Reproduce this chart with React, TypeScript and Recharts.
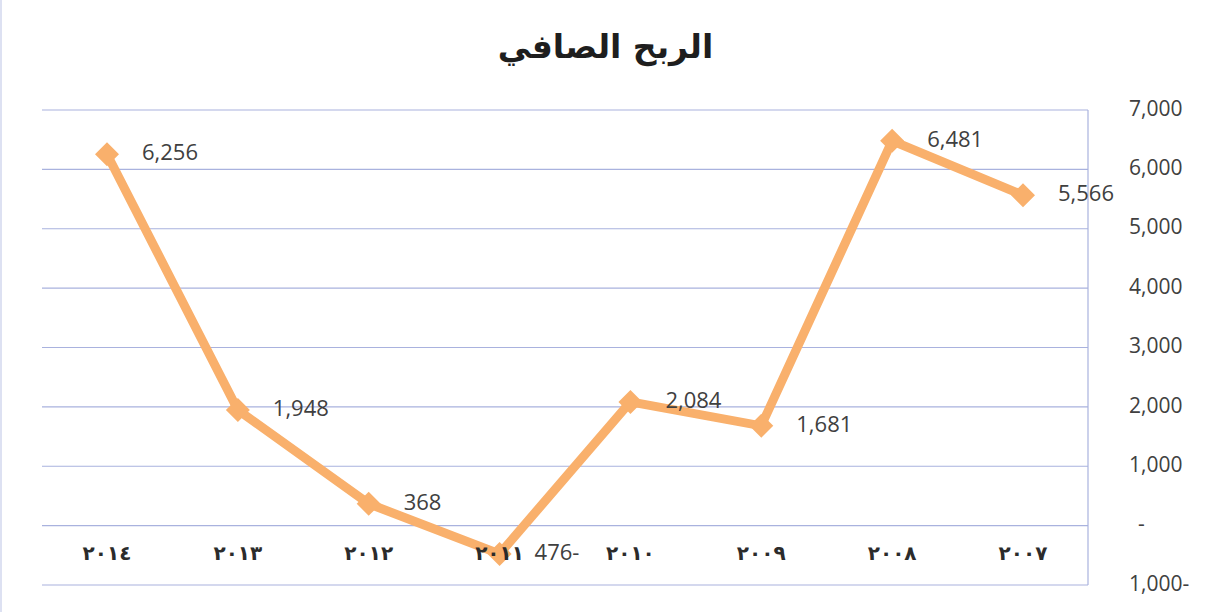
import { LineChart, Line, XAxis, YAxis, CartesianGrid, LabelList } from 'recharts';

const years = ['٢٠٠٧', '٢٠٠٨', '٢٠٠٩', '٢٠١٠', '٢٠١١', '٢٠١٢', '٢٠١٣', '٢٠١٤'];
const netProfit = [5566, 6481, 1681, 2084, -476, 368, 1948, 6256];
const yTicks = [-1000, 0, 1000, 2000, 3000, 4000, 5000, 6000, 7000];

const data = years.map((year, i) => ({ year, value: netProfit[i] }));

const ORANGE = '#F9B06C';
const GRID = '#A9B2DE';

// Excel-style format: trailing minus, dash for zero
const fmt = (v: number) => {
  if (v === 0) return '-';
  const s = Math.abs(v).toLocaleString('en-US');
  return v < 0 ? `${s}-` : s;
};

const Diamond = (props: any) => {
  const { cx, cy } = props;
  if (cx == null || cy == null) return null;
  const r = 12;
  return (
    <polygon
      points={`${cx},${cy - r} ${cx + r},${cy} ${cx},${cy + r} ${cx - r},${cy}`}
      fill={ORANGE}
    />
  );
};

const YearTick = ({ x, y, payload }: any) => (
  <text
    x={x}
    y={y - 31}
    textAnchor="middle"
    dominantBaseline="middle"
    fill="#2b2b2b"
    fontFamily="DejaVu Sans"
    fontWeight="bold"
    fontSize={20}
    style={{ letterSpacing: '6px' }}
  >
    {payload.value}
  </text>
);

const ValueTick = ({ x, y, payload }: any) => {
  const label = fmt(payload.value);
  return (
    <text
      x={label === '-' ? x + 42 : x + 33}
      y={y}
      textAnchor="start"
      dominantBaseline="middle"
      fill="#404040"
      fontFamily="Open Sans"
      fontSize={21}
    >
      {label}
    </text>
  );
};

const PointLabel = ({ x, y, value }: any) => (
  <text
    x={x + 35}
    y={y}
    textAnchor="start"
    dominantBaseline="middle"
    fill="#404040"
    fontFamily="Open Sans"
    fontSize={22}
  >
    {fmt(value)}
  </text>
);

export default function App() {
  return (
    <div
      style={{
        position: 'fixed',
        left: 0,
        top: 0,
        width: 1209,
        height: 612,
        background: '#fff',
        borderLeft: '2px solid #DDE1F2',
        boxSizing: 'border-box',
      }}
    >
      <div
        style={{
          position: 'absolute',
          top: 27,
          width: '100%',
          textAlign: 'center',
          fontFamily: 'DejaVu Sans',
          fontWeight: 'bold',
          fontSize: 33,
          color: '#1e1e1e',
          direction: 'rtl',
        }}
      >
        الربح الصافي
      </div>
      <LineChart
        width={1207}
        height={612}
        data={data}
        margin={{ top: 110, right: 21, left: 40, bottom: 26 }}
      >
        <CartesianGrid vertical={false} stroke={GRID} strokeWidth={1.2} />
        <XAxis
          dataKey="year"
          reversed
          padding={{ left: 65, right: 65 }}
          axisLine={false}
          tickLine={false}
          tickSize={0}
          tickMargin={0}
          height={1}
          interval={0}
          tick={<YearTick />}
        />
        <YAxis
          orientation="right"
          domain={[-1000, 7000]}
          ticks={yTicks}
          width={100}
          axisLine={{ stroke: GRID, strokeWidth: 1.2 }}
          tickLine={false}
          tick={<ValueTick />}
        />
        <Line
          dataKey="value"
          stroke={ORANGE}
          strokeWidth={9}
          dot={<Diamond />}
          activeDot={false}
          isAnimationActive={false}
        >
          <LabelList dataKey="value" content={<PointLabel />} />
        </Line>
      </LineChart>
    </div>
  );
}
